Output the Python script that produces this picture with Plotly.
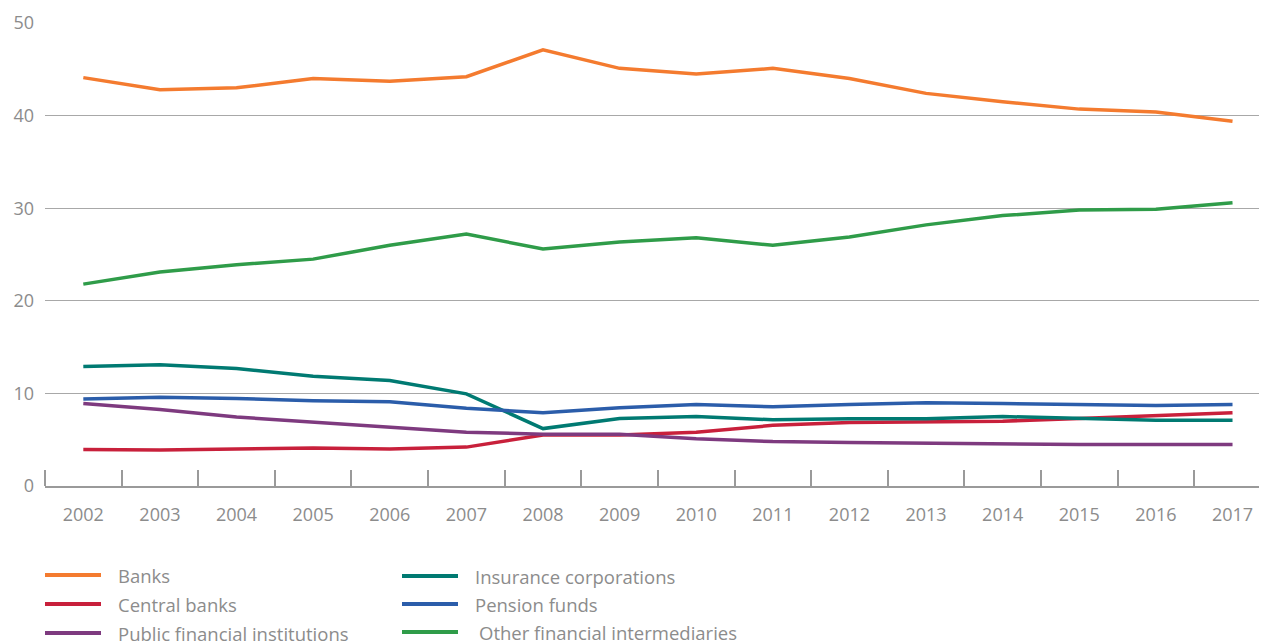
import plotly.graph_objects as go

years = [str(y) for y in range(2002, 2018)]
banks = [44.1, 42.8, 43.0, 44.0, 43.7, 44.2, 47.1, 45.1, 44.5, 45.1, 44.0, 42.4, 41.5, 40.7, 40.4, 39.4]
central_banks = [3.95, 3.9, 4.0, 4.1, 4.0, 4.2, 5.5, 5.5, 5.8, 6.55, 6.85, 6.9, 7.0, 7.3, 7.6, 7.9]
public_fin = [8.9, 8.25, 7.45, 6.87, 6.3, 5.8, 5.6, 5.6, 5.1, 4.8, 4.7, 4.63, 4.47, 4.47, 4.47, 4.47]
insurance = [12.9, 13.1, 12.7, 11.85, 11.4, 9.95, 6.2, 7.3, 7.5, 7.15, 7.27, 7.27, 7.5, 7.27, 7.1, 7.1]
pension = [9.4, 9.58, 9.45, 9.2, 9.1, 8.4, 7.9, 8.45, 8.8, 8.55, 8.8, 9.0, 8.9, 8.8, 8.7, 8.8]
other_fin = [21.8, 23.1, 23.9, 24.5, 26.0, 27.2, 25.6, 26.35, 26.8, 26.0, 26.9, 28.2, 29.2, 29.8, 29.9, 30.6]

series = [
    ("Banks", banks, "#F47B2F"),
    ("Central banks", central_banks, "#C8203B"),
    ("Public financial institutions", public_fin, "#7E3A7F"),
    ("Insurance corporations", insurance, "#007A72"),
    ("Pension funds", pension, "#2B5DAA"),
    ("Other financial intermediaries", other_fin, "#2F9C49"),
]

xs = list(range(len(years)))
FONT = "Open Sans"
GRAY = "#8c8c8c"

fig = go.Figure()
for name, vals, col in series:
    fig.add_trace(go.Scatter(x=xs, y=vals, mode="lines", name=name,
                             line=dict(color=col, width=3.5), showlegend=False,
                             hoverinfo="x+y"))

# page body has an 8px margin; figure origin sits at (8, 8) on screen
OFF = 8
W, H = 1259, 641
L, T = 45 - OFF, 23 - OFF
BOTTOM = 486 - OFF
B = H - BOTTOM
R = 0
pw, ph = W - L - R, H - T - B

def px2paper(x, y):
    # x, y in screen pixels
    return (x - OFF - L) / pw, (BOTTOM - (y - OFF)) / ph

shapes = []
annotations = []
legend_pos = [
    (45, 575), (45, 604), (45, 633),
    (402, 576), (402, 604), (402, 632),
]
text_x = [116, 116, 116, 473, 473, 477]
for (name, vals, col), (lx, ly), tx in zip(series, legend_pos, text_x):
    x0, y0 = px2paper(lx, ly)
    x1, _ = px2paper(lx + 56, ly)
    shapes.append(dict(type="line", xref="paper", yref="paper", x0=x0, x1=x1, y0=y0, y1=y0,
                       line=dict(color=col, width=4)))
    ax, ay = px2paper(tx, ly)
    annotations.append(dict(xref="paper", yref="paper", x=ax, y=ay, text=name,
                            showarrow=False, xanchor="left", yanchor="middle",
                            font=dict(family=FONT, size=18.5, color=GRAY)))

fig.update_layout(
    width=W, height=H,
    margin=dict(l=L, r=R, t=T, b=B, pad=0),
    paper_bgcolor="white", plot_bgcolor="white",
    font=dict(family=FONT, size=18, color=GRAY),
    xaxis=dict(
        range=[-0.5, 15.45], tickmode="array", tickvals=xs, ticktext=years,
        ticks="", showgrid=False, zeroline=False,
        showline=True, linecolor="#9a9a9a", linewidth=1.5,
        ticklabelstandoff=12,
        minor=dict(tickmode="array", tickvals=[i - 0.5 for i in range(17)],
                   ticks="inside", ticklen=16, tickcolor="#9a9a9a", tickwidth=1.5, showgrid=False),
        tickfont=dict(family=FONT, size=18, color=GRAY),
    ),
    yaxis=dict(
        range=[0, 50], tickmode="array", tickvals=[0, 10, 20, 30, 40, 50],
        showgrid=True, gridcolor="#a8a8a8", gridwidth=1, zeroline=False,
        ticks="", ticklabelstandoff=10,
        tickfont=dict(family=FONT, size=18, color=GRAY),
    ),
    shapes=shapes, annotations=annotations,
    showlegend=False,
)

fig.write_html("out.html")
